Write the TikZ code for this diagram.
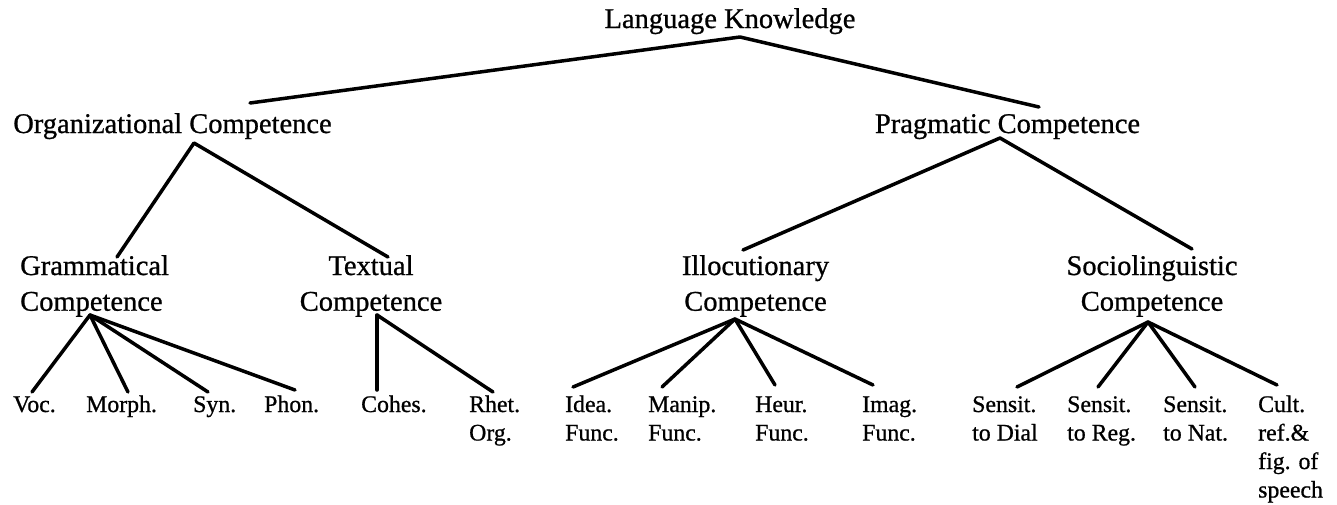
\documentclass[tikz,border=0pt]{standalone}
\usepackage{fontspec}
\setmainfont{Liberation Serif}[FakeBold=0.8]
\usetikzlibrary{calc}
\newcommand{\stackc}[1]{\begin{tabular}[t]{@{}c@{}}#1\end{tabular}}
\newcommand{\stackl}[1]{\begin{tabular}[t]{@{}l@{}}#1\end{tabular}}
\tikzset{
  upper/.style={inner sep=0pt, anchor=base, font=\rmfamily\fontsize{28.5}{35.7}\selectfont},
  upperl/.style={inner sep=0pt, anchor=base west, font=\rmfamily\fontsize{28.5}{35.7}\selectfont},
  leaf/.style={inner sep=0pt, anchor=base west, font=\rmfamily\fontsize{23.8}{28.5}\selectfont},
  edge/.style={line width=3.5pt, line cap=round, line join=round}
}
\begin{document}
\begin{tikzpicture}[x=1pt,y=-1pt]
\useasboundingbox (0,0) rectangle (1337,504);
% nodes
\node[upper] (lk) at (730,28) {Language Knowledge};
\node[upper] (org) at (172.5,133) {Organizational Competence};
\node[upper] (prag) at (1007.5,133) {Pragmatic Competence};
\node[upperl] (gram) at (20,275) {\stackl{Grammatical\\Competence}};
\node[upper] (text) at (371,275) {\stackc{Textual\\Competence}};
\node[upper] (illoc) at (755.5,275) {\stackc{Illocutionary\\Competence}};
\node[upper] (socio) at (1152,275) {\stackc{Sociolinguistic\\Competence}};
\node[leaf] (voc) at (13,412) {Voc.};
\node[leaf] (morph) at (86,412) {Morph.};
\node[leaf] (syn) at (193,412) {Syn.};
\node[leaf] (phon) at (264,412) {Phon.};
\node[leaf] (cohes) at (361,412) {Cohes.};
\node[leaf] (rhet) at (469,412) {\stackl{Rhet.\\Org.}};
\node[leaf] (idea) at (565,412) {\stackl{Idea.\\Func.}};
\node[leaf] (manip) at (648,412) {\stackl{Manip.\\Func.}};
\node[leaf] (heur) at (755,412) {\stackl{Heur.\\Func.}};
\node[leaf] (imag) at (862,412) {\stackl{Imag.\\Func.}};
\node[leaf] (dial) at (972,412) {\stackl{Sensit.\\to Dial}};
\node[leaf] (reg) at (1067,412) {\stackl{Sensit.\\to Reg.}};
\node[leaf] (nat) at (1163,412) {\stackl{Sensit.\\to Nat.}};
\node[leaf] (cult) at (1258,412) {\stackl{Cult.\\ref.\&\\fig. of\\speech}};
% connectors
\draw[edge] ($(org.base)+(77.5,-30)$) -- ($(lk.base)+(10,9)$) -- ($(prag.base)+(31.5,-26)$);
\draw[edge] ($(gram.base west)+(97,-18)$) -- ($(org.base)+(21.5,10)$) -- ($(text.base)+(17,-18)$);
\draw[edge] ($(illoc.base)+(-12.5,-25)$) -- ($(prag.base)+(-7.5,5)$) -- ($(socio.base)+(40,-26)$);
% grammatical
\draw[edge] ($(gram.base west)+(70,40)$) -- ($(voc.base west)+(19,-20)$);
\draw[edge] ($(gram.base west)+(70,40)$) -- ($(morph.base west)+(42,-20)$);
\draw[edge] ($(gram.base west)+(70,40)$) -- ($(syn.base west)+(15,-20)$);
\draw[edge] ($(gram.base west)+(70,40)$) -- ($(phon.base west)+(31,-22)$);
% textual
\draw[edge] ($(text.base)+(6,40)$) -- ($(cohes.base west)+(16,-22)$);
\draw[edge] ($(text.base)+(6,40)$) -- ($(rhet.base west)+(24,-20)$);
% illocutionary
\draw[edge] ($(illoc.base)+(-20.5,44)$) -- ($(idea.base west)+(8,-25)$);
\draw[edge] ($(illoc.base)+(-20.5,44)$) -- ($(manip.base west)+(14,-25)$);
\draw[edge] ($(illoc.base)+(-20.5,44)$) -- ($(heur.base west)+(20,-27)$);
\draw[edge] ($(illoc.base)+(-20.5,44)$) -- ($(imag.base west)+(11,-27)$);
% sociolinguistic
\draw[edge] ($(socio.base)+(-4,47)$) -- ($(dial.base west)+(45,-25)$);
\draw[edge] ($(socio.base)+(-4,47)$) -- ($(reg.base west)+(31,-25)$);
\draw[edge] ($(socio.base)+(-4,47)$) -- ($(nat.base west)+(32,-25)$);
\draw[edge] ($(socio.base)+(-4,47)$) -- ($(cult.base west)+(19,-27)$);
\end{tikzpicture}
\end{document}
